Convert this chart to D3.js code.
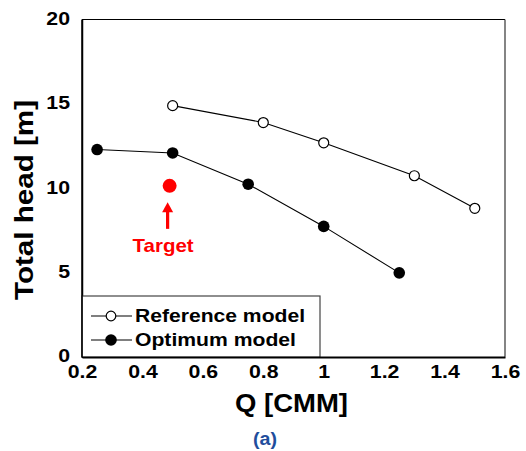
<!DOCTYPE html>
<html><head><meta charset="utf-8">
<script src="https://cdn.jsdelivr.net/npm/d3@7"></script>
<style>
html,body{margin:0;padding:0;background:#fff;}
svg{display:block;}
text{font-family:"Liberation Sans",Arial,sans-serif;font-weight:bold;}
</style></head><body>
<script>
const refQ = [0.5, 0.8, 1.0, 1.3, 1.5];
const refHead = [14.9, 13.9, 12.7, 10.75, 8.82];
const optQ = [0.25, 0.5, 0.75, 1.0, 1.25];
const optHead = [12.3, 12.1, 10.25, 7.75, 5.0];
const targetQ = [0.49];
const targetHead = [10.15];
const xTicks = [0.2, 0.4, 0.6, 0.8, 1.0, 1.2, 1.4, 1.6];
const yTicks = [0, 5, 10, 15, 20];
const seriesNames = ["Reference model", "Optimum model"];

const W = 526, H = 451;
const L = 82, R = 505, T = 19.5, B = 357.3;
const svg = d3.select("body").append("svg").attr("width", W).attr("height", H);

const x = d3.scaleLinear().domain([0.2, 1.6]).range([L, R]);
const y = d3.scaleLinear().domain([0, 20]).range([B, T]);

svg.append("line").attr("x1", L).attr("x2", R).attr("y1", T).attr("y2", T).attr("stroke", "#000").attr("stroke-width", 1.2);
svg.append("line").attr("x1", R).attr("x2", R).attr("y1", T).attr("y2", B).attr("stroke", "#333").attr("stroke-width", 1.2);

function stretch(sel, f) {
  sel.each(function () {
    const len = this.getComputedTextLength();
    d3.select(this).attr("textLength", len * f).attr("lengthAdjust", "spacingAndGlyphs");
  });
}

const xAxis = svg.append("g").attr("transform", `translate(0,${B})`)
  .call(d3.axisBottom(x).tickValues(xTicks).tickSize(0).tickPadding(0).tickFormat(d => d3.format("~g")(d)));
xAxis.select(".domain").attr("stroke", "#000").attr("stroke-width", 1.5);
xAxis.selectAll("text").attr("font-size", 18.5).attr("font-family", "Liberation Sans, Arial, sans-serif")
  .attr("font-weight", "bold").attr("fill", "#000").attr("dy", null).attr("y", 21);
stretch(xAxis.selectAll("text"), 1.15);

const yAxis = svg.append("g").attr("transform", `translate(${L},0)`)
  .call(d3.axisLeft(y).tickValues(yTicks).tickSize(0).tickPadding(12));
yAxis.select(".domain").attr("stroke", "#000").attr("stroke-width", 1.5);
yAxis.selectAll("text").attr("font-size", 18.5).attr("font-family", "Liberation Sans, Arial, sans-serif")
  .attr("font-weight", "bold").attr("fill", "#000").attr("dy", "0.25em");
stretch(yAxis.selectAll("text"), 1.15);

const line = d3.line().x(d => x(d[0])).y(d => y(d[1]));
const refData = refQ.map((q, i) => [q, refHead[i]]);
const optData = optQ.map((q, i) => [q, optHead[i]]);

svg.append("path").datum(refData).attr("d", line).attr("fill", "none").attr("stroke", "#000").attr("stroke-width", 1.1);
svg.append("path").datum(optData).attr("d", line).attr("fill", "none").attr("stroke", "#000").attr("stroke-width", 1.1);
svg.selectAll(".ref").data(refData).enter().append("circle")
  .attr("cx", d => x(d[0])).attr("cy", d => y(d[1])).attr("r", 5)
  .attr("fill", "#fff").attr("stroke", "#000").attr("stroke-width", 1.2);
svg.selectAll(".opt").data(optData).enter().append("circle")
  .attr("cx", d => x(d[0])).attr("cy", d => y(d[1])).attr("r", 5.8).attr("fill", "#000");

const tq = targetQ[0], th = targetHead[0];
svg.append("circle").attr("cx", x(tq)).attr("cy", y(th)).attr("r", 7).attr("fill", "#ff0000");
const ax = x(tq) - 2;
const aTop = y(th) + 16.5, aBot = y(th) + 43;
svg.append("line").attr("x1", ax).attr("x2", ax).attr("y1", aTop + 8).attr("y2", aBot).attr("stroke", "#ff0000").attr("stroke-width", 3.2);
svg.append("path").attr("d", `M${ax},${aTop} L${ax - 5.5},${aTop + 10} L${ax + 5.5},${aTop + 10} Z`).attr("fill", "#ff0000");
svg.append("text").attr("x", ax - 4.5).attr("y", y(th) + 66.5).attr("text-anchor", "middle")
  .attr("font-family", "Noto Sans, sans-serif").attr("font-size", 19).attr("fill", "#ff0000")
  .attr("textLength", 61).attr("lengthAdjust", "spacingAndGlyphs").text("Target");

const lg = svg.append("g");
lg.append("rect").attr("x", L).attr("y", 296).attr("width", 320 - L).attr("height", B - 296)
  .attr("fill", "#fff").attr("stroke", "#444").attr("stroke-width", 1.2);
seriesNames.forEach((name, i) => {
  const cy = 316 + i * 24;
  lg.append("line").attr("x1", 91).attr("x2", 132).attr("y1", cy).attr("y2", cy).attr("stroke", "#000").attr("stroke-width", 1.1);
  if (i === 0) lg.append("circle").attr("cx", 111).attr("cy", cy).attr("r", 4.8).attr("fill", "#fff").attr("stroke", "#000").attr("stroke-width", 1.2);
  else lg.append("circle").attr("cx", 111).attr("cy", cy).attr("r", 5.8).attr("fill", "#000");
  lg.append("text").attr("x", 135).attr("y", cy).attr("dy", "0.36em").attr("font-size", 17.5).attr("fill", "#000")
    .attr("textLength", i === 0 ? 170 : 161).attr("lengthAdjust", "spacingAndGlyphs").text(name);
});
svg.append("line").attr("x1", L).attr("x2", R).attr("y1", B).attr("y2", B).attr("stroke", "#000").attr("stroke-width", 1.5);
svg.append("line").attr("x1", L).attr("x2", L).attr("y1", T).attr("y2", B).attr("stroke", "#000").attr("stroke-width", 1.5);

svg.append("text").attr("x", 291.5).attr("y", 412).attr("text-anchor", "middle").attr("font-size", 25.5).attr("fill", "#000")
  .attr("textLength", 113).attr("lengthAdjust", "spacingAndGlyphs").text("Q [CMM]");
svg.append("text").attr("transform", "translate(33,200) rotate(-90)").attr("text-anchor", "middle").attr("font-size", 25.5).attr("fill", "#000")
  .attr("textLength", 200).attr("lengthAdjust", "spacingAndGlyphs").text("Total head [m]");
svg.append("text").attr("x", 265).attr("y", 445).attr("text-anchor", "middle").attr("font-size", 18).attr("fill", "#1f4e9c")
  .attr("font-family", "Noto Sans, sans-serif").attr("textLength", 24).attr("lengthAdjust", "spacingAndGlyphs").text("(a)");
</script>
</body></html>
